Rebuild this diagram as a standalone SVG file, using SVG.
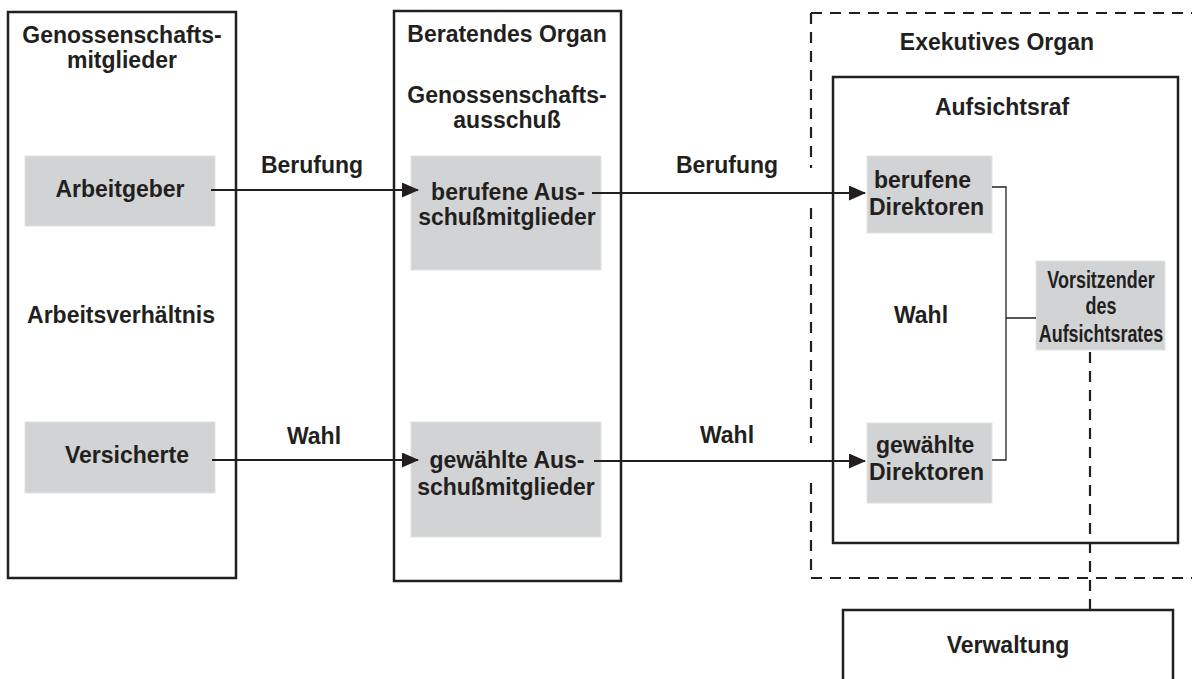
<svg xmlns="http://www.w3.org/2000/svg" width="1192" height="679" viewBox="0 0 1192 679">
  <style>
    .t { font-family: "Liberation Sans", Arial, Helvetica, sans-serif; font-weight: bold; font-size: 23px; fill: #231f20; }
    .c { text-anchor: middle; }
    .frame { fill: none; stroke: #231f20; stroke-width: 2.5; }
    .grey { fill: #d1d3d4; stroke: #e2e3e4; stroke-width: 1; }
    .dash { fill: none; stroke: #231f20; stroke-width: 2.2; stroke-dasharray: 11 8; }
    .arrow { fill: none; stroke: #231f20; stroke-width: 2; marker-end: url(#ah); }
    .thin { fill: none; stroke: #231f20; stroke-width: 1.3; }
  </style>
  <defs>
    <marker id="ah" markerWidth="17" markerHeight="15" refX="16" refY="7.5" orient="auto" markerUnits="userSpaceOnUse">
      <path d="M0,0 L17,7.5 L0,15 Z" fill="#231f20"/>
    </marker>
  </defs>
  <rect width="1192" height="679" fill="#ffffff"/>

  <g id="mitglieder">
    <rect class="frame" x="8" y="12" width="228" height="566"/>
    <text class="t c" x="122" y="43">Genossenschafts-</text>
    <text class="t c" x="122" y="68">mitglieder</text>
    <text class="t c" x="121" y="323">Arbeitsverhältnis</text>
  </g>
  <g id="arbeitgeber">
    <rect class="grey" x="25" y="156" width="190" height="70"/>
    <text class="t c" x="120" y="197">Arbeitgeber</text>
  </g>
  <g id="versicherte">
    <rect class="grey" x="25" y="422" width="190" height="71"/>
    <text class="t c" x="127" y="463">Versicherte</text>
  </g>

  <g id="beratendes-organ">
    <rect class="frame" x="394" y="11" width="227" height="570"/>
    <text class="t c" x="507" y="42">Beratendes Organ</text>
    <text class="t c" x="507" y="103">Genossenschafts-</text>
    <text class="t c" x="507" y="128">ausschuß</text>
  </g>
  <g id="berufene-ausschuss">
    <rect class="grey" x="411" y="156" width="190" height="114"/>
    <text class="t c" x="508" y="200">berufene Aus-</text>
    <text class="t c" x="507" y="225">schußmitglieder</text>
  </g>
  <g id="gewaehlte-ausschuss">
    <rect class="grey" x="411" y="422" width="190" height="115"/>
    <text class="t c" x="507" y="468">gewählte Aus-</text>
    <text class="t c" x="506" y="495">schußmitglieder</text>
  </g>

  <g id="exekutives-organ">
    <path class="dash" d="M811,13 H1192 M811,13 V168 M811,208 V443 M811,483 V578 H1192"/>
    <text class="t c" x="997" y="50">Exekutives Organ</text>
  </g>
  <g id="aufsichtsrat">
    <rect class="frame" x="833" y="77" width="345" height="466"/>
    <text class="t c" x="1002" y="115">Aufsichtsraf</text>
    <text class="t c" x="921" y="323">Wahl</text>
  </g>
  <g id="berufene-direktoren">
    <rect class="grey" x="867" y="156" width="125" height="77"/>
    <text class="t" x="874" y="188">berufene</text>
    <text class="t" x="869" y="215">Direktoren</text>
  </g>
  <g id="gewaehlte-direktoren">
    <rect class="grey" x="867" y="423" width="125" height="80"/>
    <text class="t" x="876" y="453">gewählte</text>
    <text class="t" x="869" y="480">Direktoren</text>
  </g>
  <g id="vorsitzender">
    <rect class="grey" x="1036" y="261" width="129" height="89"/>
    <g transform="translate(1101,0) scale(0.78,1)">
      <text class="t c" x="0" y="288">Vorsitzender</text>
      <text class="t c" x="0" y="314">des</text>
      <text class="t c" x="0" y="342">Aufsichtsrates</text>
    </g>
  </g>
  <g id="verwaltung">
    <rect class="frame" x="843" y="610" width="330" height="90"/>
    <text class="t c" x="1008" y="653">Verwaltung</text>
  </g>

  <g id="connectors">
    <path class="arrow" d="M211,190 H418"/>
    <path class="arrow" d="M212,460 H418"/>
    <path class="arrow" d="M592,193 H865"/>
    <path class="arrow" d="M594,461 H865"/>
    <path class="thin" d="M992,187 H1006 V460 H992 M1006,318 H1036"/>
    <path class="dash" d="M1090,352 V610"/>
    <text class="t c" x="312" y="173">Berufung</text>
    <text class="t c" x="314" y="444">Wahl</text>
    <text class="t c" x="727" y="173">Berufung</text>
    <text class="t c" x="727" y="443">Wahl</text>
  </g>
</svg>
